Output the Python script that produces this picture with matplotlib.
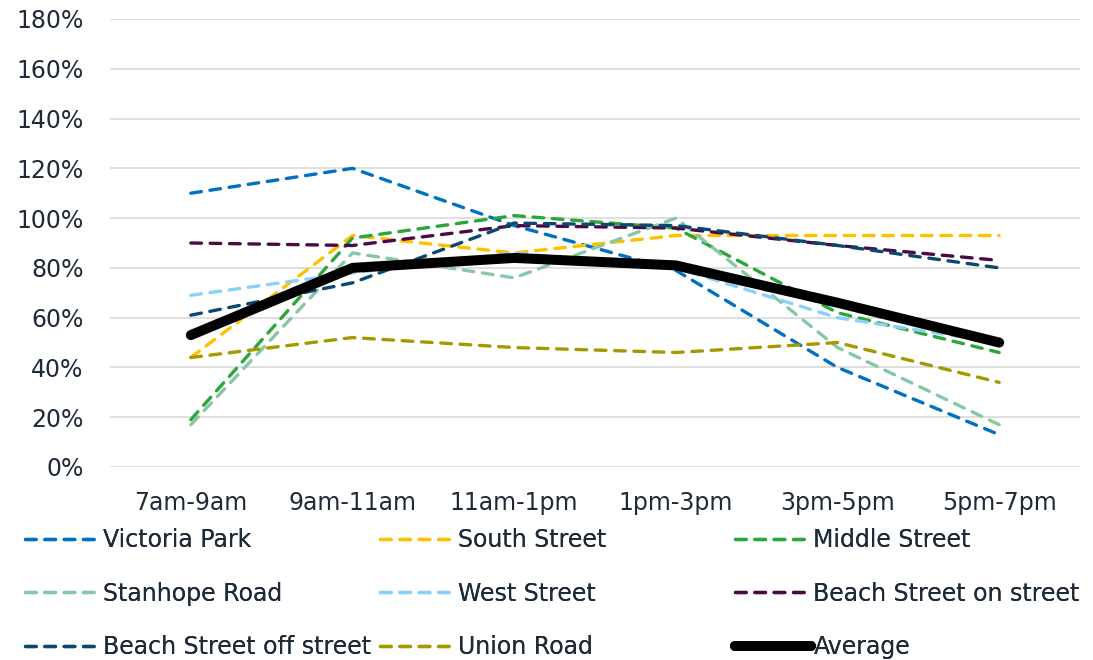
import matplotlib
matplotlib.use("Agg")
import matplotlib.pyplot as plt
from matplotlib.ticker import FuncFormatter

# Time slots along the x axis
time_slots = ["7am-9am", "9am-11am", "11am-1pm", "1pm-3pm", "3pm-5pm", "5pm-7pm"]

# Occupancy (%) for each car park / street
victoria_park = [110, 120, 97, 79, 40, 13]
south_street = [44, 93, 86, 93, 93, 93]
middle_street = [19, 92, 101, 96, 62, 46]
stanhope_road = [17, 86, 76, 100, 48, 17]
west_street = [69, 78, 86, 80, 60, 50]
beach_on_street = [90, 89, 97, 96, 89, 83]
beach_off_street = [61, 74, 98, 97, 89, 80]
union_road = [44, 52, 48, 46, 50, 34]
average = [53, 80, 84, 81, 66, 50]

series = [
    ("Victoria Park", victoria_park, "#0070C0"),
    ("South Street", south_street, "#FFC000"),
    ("Middle Street", middle_street, "#2AA63A"),
    ("Stanhope Road", stanhope_road, "#86C8A4"),
    ("West Street", west_street, "#89D0FA"),
    ("Beach Street on street", beach_on_street, "#4A0A45"),
    ("Beach Street off street", beach_off_street, "#0B4870"),
    ("Union Road", union_road, "#A69800"),
]

text_color = "#1E2A38"
plt.rcParams["font.family"] = ["DejaVu Sans"]
fs = 17

fig = plt.figure(figsize=(10.93, 6.60), dpi=100)
ax = fig.add_axes([110 / 1093, 1 - 467 / 660, (1080 - 110) / 1093, (467 - 19) / 660])

x = list(range(len(time_slots)))
handles = {}
for name, vals, col in series:
    (ln,) = ax.plot(x, vals, color=col, lw=2.4, dashes=(3.2, 2.6),
                    dash_capstyle="round", zorder=3)
    handles[name] = ln
(avg_ln,) = ax.plot(x, average, color="black", lw=7.2, solid_capstyle="round",
                    solid_joinstyle="round", zorder=4)
handles["Average"] = avg_ln

ax.set_xlim(-0.5, len(time_slots) - 0.5)
ax.set_ylim(0, 180)
ax.set_yticks(range(0, 181, 20))
ax.yaxis.set_major_formatter(FuncFormatter(lambda v, p: f"{int(v)}%"))
ax.set_xticks(x)
ax.set_xticklabels(time_slots)
ax.grid(axis="y", color="#D9D9D9", lw=1.2, zorder=0)
ax.set_axisbelow(True)
for s in ax.spines.values():
    s.set_visible(False)
ax.tick_params(axis="both", length=0, labelsize=fs, colors=text_color)
ax.tick_params(axis="y", pad=19)
ax.tick_params(axis="x", pad=17)

# Legend laid out as three columns, one legend per column
columns = [
    (["Victoria Park", "Stanhope Road", "Beach Street off street"], 25),
    (["South Street", "West Street", "Union Road"], 380),
    (["Middle Street", "Beach Street on street", "Average"], 735),
]
for names, xpix in columns:
    leg = fig.legend([handles[n] for n in names], names,
                     loc="upper left", bbox_to_anchor=(xpix / 1093, 1 - 528 / 660),
                     frameon=False, fontsize=fs, handlelength=3.2, handletextpad=0.12,
                     labelspacing=1.25, borderaxespad=0, borderpad=0,
                     labelcolor=text_color)
    fig.add_artist(leg)

fig.savefig("out.png", dpi=100)
